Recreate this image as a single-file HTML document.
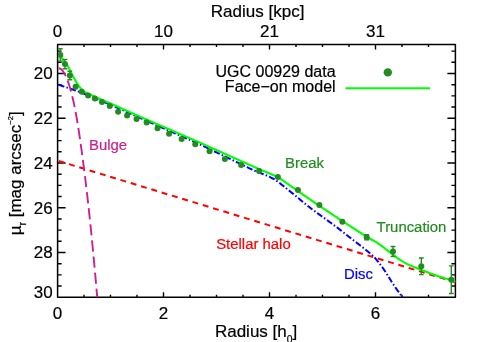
<!DOCTYPE html><html><head><meta charset="utf-8"><style>html,body{margin:0;padding:0;background:#fff}svg{display:block;will-change:transform}text{font-family:"Liberation Sans",sans-serif;fill:#000;stroke:#000;stroke-width:0.2px}</style></head><body>
<svg width="479" height="342" viewBox="0 0 479 342">
<rect width="479" height="342" fill="#fff"/>
<defs><clipPath id="c"><rect x="58.10" y="44.50" width="397.30" height="252.65"/></clipPath></defs>
<rect x="57.60" y="44.50" width="397.80" height="252.65" fill="none" stroke="#000" stroke-width="1.5" stroke-linejoin="round"/><path d="M84.00 297.15 v-2.50 M84.00 44.50 v2.50 M110.50 297.15 v-2.50 M110.50 44.50 v2.50 M137.00 297.15 v-2.50 M137.00 44.50 v2.50 M163.50 297.15 v-5.00 M163.50 44.50 v5.00 M190.00 297.15 v-2.50 M190.00 44.50 v2.50 M216.50 297.15 v-2.50 M216.50 44.50 v2.50 M243.00 297.15 v-2.50 M243.00 44.50 v2.50 M269.50 297.15 v-5.00 M269.50 44.50 v5.00 M296.00 297.15 v-2.50 M296.00 44.50 v2.50 M322.50 297.15 v-2.50 M322.50 44.50 v2.50 M349.00 297.15 v-2.50 M349.00 44.50 v2.50 M375.50 297.15 v-5.00 M375.50 44.50 v5.00 M402.00 297.15 v-2.50 M402.00 44.50 v2.50 M428.50 297.15 v-2.50 M428.50 44.50 v2.50 M57.60 51.12 h4.00 M455.40 51.12 h-4.00 M57.60 62.31 h4.00 M455.40 62.31 h-4.00 M57.60 73.50 h8.00 M455.40 73.50 h-8.00 M57.60 84.69 h4.00 M455.40 84.69 h-4.00 M57.60 95.88 h4.00 M455.40 95.88 h-4.00 M57.60 107.06 h4.00 M455.40 107.06 h-4.00 M57.60 118.25 h8.00 M455.40 118.25 h-8.00 M57.60 129.44 h4.00 M455.40 129.44 h-4.00 M57.60 140.62 h4.00 M455.40 140.62 h-4.00 M57.60 151.81 h4.00 M455.40 151.81 h-4.00 M57.60 163.00 h8.00 M455.40 163.00 h-8.00 M57.60 174.19 h4.00 M455.40 174.19 h-4.00 M57.60 185.38 h4.00 M455.40 185.38 h-4.00 M57.60 196.56 h4.00 M455.40 196.56 h-4.00 M57.60 207.75 h8.00 M455.40 207.75 h-8.00 M57.60 218.94 h4.00 M455.40 218.94 h-4.00 M57.60 230.12 h4.00 M455.40 230.12 h-4.00 M57.60 241.31 h4.00 M455.40 241.31 h-4.00 M57.60 252.50 h8.00 M455.40 252.50 h-8.00 M57.60 263.69 h4.00 M455.40 263.69 h-4.00 M57.60 274.88 h4.00 M455.40 274.88 h-4.00 M57.60 286.06 h4.00 M455.40 286.06 h-4.00 " stroke="#000" stroke-width="1.4" fill="none"/>
<g clip-path="url(#c)" fill="none">
<path d="M57.60 84.45 L58.55 84.76 L59.50 85.07 L60.45 85.38 L61.40 85.70 L62.35 86.01 L63.30 86.33 L64.25 86.65 L65.19 86.97 L66.14 87.29 L67.09 87.61 L68.03 87.93 L68.98 88.26 L69.93 88.58 L70.87 88.91 L71.82 89.23 L72.76 89.56 L73.71 89.89 L74.65 90.22 L75.59 90.56 L76.53 90.89 L77.47 91.23 L78.42 91.57 L79.36 91.91 L80.29 92.25 L81.23 92.61 L82.16 92.96 L83.09 93.33 L84.02 93.70 L84.95 94.08 L85.87 94.46 L86.80 94.84 L87.72 95.22 L88.64 95.61 L89.57 96.00 L90.49 96.38 L91.41 96.77 L92.33 97.15 L93.26 97.54 L94.18 97.93 L95.10 98.31 L96.02 98.70 L96.95 99.08 L97.87 99.46 L98.80 99.84 L99.72 100.22 L100.65 100.59 L101.58 100.97 L102.50 101.35 L103.43 101.73 L104.35 102.10 L105.28 102.48 L106.20 102.86 L107.13 103.24 L108.05 103.63 L108.97 104.02 L109.89 104.41 L110.81 104.82 L111.72 105.22 L112.63 105.63 L113.55 106.04 L114.46 106.45 L115.37 106.85 L116.28 107.26 L117.20 107.67 L118.11 108.08 L119.02 108.49 L119.93 108.90 L120.85 109.31 L121.76 109.72 L122.67 110.13 L123.59 110.53 L124.50 110.94 L125.41 111.35 L126.32 111.76 L127.24 112.17 L128.15 112.58 L129.06 112.99 L129.97 113.40 L130.89 113.80 L131.80 114.21 L132.71 114.62 L133.62 115.03 L134.54 115.44 L135.45 115.84 L136.36 116.25 L137.28 116.66 L138.19 117.06 L139.11 117.47 L140.02 117.88 L140.93 118.28 L141.85 118.69 L142.76 119.09 L143.68 119.50 L144.59 119.90 L145.50 120.31 L146.42 120.71 L147.33 121.12 L148.25 121.52 L149.16 121.93 L150.08 122.33 L150.99 122.73 L151.91 123.14 L152.82 123.54 L153.74 123.95 L154.65 124.35 L155.57 124.75 L156.48 125.16 L157.40 125.56 L158.31 125.97 L159.22 126.37 L160.14 126.78 L161.05 127.18 L161.97 127.58 L162.88 127.99 L163.80 128.39 L164.71 128.80 L165.63 129.20 L166.54 129.60 L167.46 130.01 L168.37 130.41 L169.29 130.82 L170.20 131.22 L171.12 131.63 L172.03 132.03 L172.94 132.43 L173.86 132.84 L174.77 133.24 L175.69 133.65 L176.60 134.05 L177.52 134.45 L178.43 134.86 L179.35 135.26 L180.26 135.67 L181.18 136.07 L182.09 136.48 L183.01 136.88 L183.92 137.28 L184.84 137.69 L185.75 138.09 L186.67 138.50 L187.58 138.90 L188.49 139.30 L189.41 139.71 L190.32 140.11 L191.24 140.52 L192.15 140.92 L193.07 141.33 L193.98 141.73 L194.90 142.13 L195.81 142.54 L196.73 142.94 L197.64 143.35 L198.55 143.76 L199.46 144.17 L200.37 144.59 L201.27 145.02 L202.18 145.45 L203.08 145.89 L203.98 146.32 L204.88 146.76 L205.78 147.19 L206.68 147.63 L207.58 148.06 L208.48 148.50 L209.38 148.93 L210.28 149.37 L211.18 149.80 L212.08 150.24 L212.98 150.67 L213.88 151.11 L214.78 151.55 L215.68 151.98 L216.58 152.42 L217.48 152.85 L218.38 153.29 L219.28 153.72 L220.18 154.16 L221.08 154.59 L221.98 155.03 L222.88 155.46 L223.78 155.90 L224.68 156.34 L225.58 156.77 L226.48 157.21 L227.38 157.64 L228.28 158.08 L229.18 158.51 L230.08 158.95 L230.98 159.38 L231.88 159.82 L232.78 160.25 L233.68 160.69 L234.58 161.13 L235.48 161.56 L236.39 162.00 L237.29 162.43 L238.19 162.87 L239.09 163.30 L239.99 163.74 L240.89 164.17 L241.79 164.61 L242.69 165.04 L243.59 165.48 L244.49 165.91 L245.39 166.35 L246.29 166.79 L247.19 167.22 L248.09 167.66 L248.99 168.09 L249.89 168.53 L250.79 168.96 L251.69 169.40 L252.59 169.83 L253.50 170.25 L254.41 170.67 L255.32 171.07 L256.24 171.45 L257.17 171.82 L258.10 172.19 L259.03 172.55 L259.97 172.91 L260.90 173.27 L261.84 173.62 L262.77 173.98 L263.70 174.34 L264.63 174.71 L265.56 175.07 L266.49 175.45 L267.40 175.85 L268.31 176.26 L269.22 176.69 L270.11 177.13 L271.01 177.58 L271.90 178.03 L272.78 178.50 L273.66 178.97 L274.52 179.47 L275.37 179.99 L276.20 180.54 L277.02 181.12 L277.83 181.70 L278.63 182.30 L279.43 182.90 L280.22 183.51 L281.01 184.12 L281.80 184.74 L282.58 185.37 L283.36 185.99 L284.14 186.61 L284.92 187.24 L285.70 187.86 L286.48 188.49 L287.27 189.11 L288.05 189.74 L288.83 190.36 L289.61 190.99 L290.39 191.61 L291.17 192.24 L291.94 192.87 L292.72 193.50 L293.49 194.13 L294.27 194.77 L295.04 195.41 L295.81 196.04 L296.58 196.68 L297.34 197.32 L298.11 197.96 L298.88 198.60 L299.65 199.24 L300.42 199.87 L301.19 200.51 L301.97 201.15 L302.74 201.78 L303.52 202.41 L304.30 203.04 L305.08 203.66 L305.85 204.29 L306.64 204.92 L307.42 205.54 L308.20 206.17 L308.98 206.79 L309.76 207.42 L310.54 208.04 L311.32 208.66 L312.11 209.27 L312.91 209.88 L313.71 210.48 L314.51 211.07 L315.32 211.66 L316.13 212.24 L316.95 212.83 L317.76 213.41 L318.57 213.99 L319.38 214.58 L320.19 215.16 L321.01 215.75 L321.82 216.33 L322.63 216.91 L323.44 217.50 L324.25 218.08 L325.06 218.67 L325.88 219.25 L326.68 219.84 L327.49 220.43 L328.30 221.02 L329.11 221.61 L329.91 222.20 L330.72 222.79 L331.52 223.39 L332.33 223.98 L333.13 224.58 L333.93 225.17 L334.74 225.76 L335.54 226.36 L336.34 226.96 L337.14 227.56 L337.94 228.16 L338.73 228.77 L339.52 229.39 L340.31 230.00 L341.10 230.62 L341.88 231.24 L342.67 231.85 L343.46 232.47 L344.24 233.09 L345.03 233.70 L345.82 234.32 L346.61 234.94 L347.39 235.56 L348.18 236.17 L348.97 236.79 L349.76 237.40 L350.55 238.01 L351.34 238.63 L352.13 239.24 L352.92 239.84 L353.72 240.45 L354.51 241.06 L355.30 241.67 L356.10 242.28 L356.89 242.89 L357.68 243.50 L358.47 244.11 L359.27 244.72 L360.06 245.33 L360.85 245.94 L361.64 246.55 L362.43 247.17 L363.21 247.79 L363.99 248.42 L364.77 249.04 L365.55 249.67 L366.33 250.30 L367.10 250.93 L367.88 251.56 L368.66 252.19 L369.43 252.82 L370.21 253.45 L370.97 254.09 L371.73 254.75 L372.47 255.42 L373.19 256.11 L373.89 256.82 L374.58 257.54 L375.25 258.28 L375.91 259.03 L376.55 259.80 L377.18 260.57 L377.80 261.35 L378.42 262.14 L379.03 262.93 L379.64 263.72 L380.25 264.52 L380.85 265.32 L381.45 266.12 L382.04 266.92 L382.63 267.73 L383.21 268.54 L383.79 269.36 L384.35 270.19 L384.90 271.02 L385.45 271.86 L385.99 272.70 L386.53 273.54 L387.07 274.38 L387.61 275.22 L388.14 276.07 L388.67 276.92 L389.19 277.77 L389.72 278.62 L390.24 279.48 L390.76 280.33 L391.28 281.18 L391.81 282.03 L392.34 282.88 L392.89 283.72 L393.44 284.55 L393.99 285.38 L394.55 286.21 L395.12 287.04 L395.68 287.86 L396.26 288.68 L396.84 289.49 L397.42 290.30 L398.02 291.10 L398.62 291.90 L399.23 292.70 L399.83 293.49 L400.43 294.29 L401.03 295.10 L401.61 295.91 L402.19 296.72 L402.77 297.54 L403.34 298.36 L403.92 299.18" stroke="#0000ff" stroke-width="2" stroke-dasharray="6.2 2.2 1.5 2.2" stroke-dashoffset="-0.9"/>
<path d="M58.7 161.01 L456 282.4" stroke="#ff0000" stroke-width="2" stroke-dasharray="5.9 4.863"/>
<path d="M58.42 68.24 L58.95 68.28 L59.48 68.41 L60.01 68.62 L60.55 68.91 L61.08 69.29 L61.62 69.76 L62.15 70.30 L62.69 70.93 L63.23 71.65 L63.76 72.45 L64.30 73.33 L64.84 74.30 L65.38 75.35 L65.92 76.49 L66.46 77.71 L67.01 79.01 L67.55 80.40 L68.09 81.87 L68.63 83.43 L69.17 85.07 L69.71 86.79 L70.25 88.60 L70.78 90.49 L71.32 92.47 L71.85 94.53 L72.38 96.68 L72.91 98.91 L73.43 101.22 L73.95 103.62 L74.46 106.10 L74.97 108.67 L75.48 111.32 L75.99 114.05 L76.49 116.87 L76.99 119.77 L77.49 122.76 L77.99 125.83 L78.48 128.98 L78.98 132.22 L79.48 135.55 L79.98 138.95 L80.48 142.44 L80.99 146.02 L81.50 149.68 L82.01 153.42 L82.52 157.25 L83.04 161.16 L83.56 165.16 L84.09 169.24 L84.61 173.40 L85.14 177.65 L85.66 181.99 L86.19 186.40 L86.72 190.90 L87.25 195.49 L87.78 200.16 L88.31 204.91 L88.84 209.75 L89.37 214.67 L89.90 219.68 L90.43 224.77 L90.96 229.94 L91.49 235.20 L92.02 240.54 L92.55 245.97 L93.08 251.48 L93.61 257.07 L94.14 262.75 L94.67 268.51 L95.20 274.36 L95.73 280.29 L96.26 286.31 L96.79 292.41 L97.32 298.59" stroke="#cd2090" stroke-width="1.9" stroke-dasharray="11.25 4.93"/>
</g>
<path d="M61.33 57.58 L61.89 58.40 L62.48 59.21 L63.08 60.01 L63.69 60.80 L64.31 61.59 L64.93 62.37 L65.55 63.15 L66.16 63.94 L66.76 64.74 L67.33 65.56 L67.87 66.39 L68.37 67.25 L68.85 68.13 L69.31 69.01 L69.77 69.90 L70.22 70.79 L70.67 71.69 L71.12 72.58 L71.58 73.47 L72.03 74.36 L72.50 75.25 L72.96 76.13 L73.44 77.01 L73.92 77.88 L74.41 78.76 L74.90 79.63 L75.39 80.50 L75.89 81.36 L76.40 82.22 L76.92 83.08 L77.46 83.92 L78.01 84.76 L78.57 85.58 L79.15 86.39 L79.76 87.18 L80.40 87.94 L81.07 88.67 L81.77 89.38 L82.50 90.06 L83.25 90.70 L84.03 91.29 L84.86 91.83 L85.72 92.32 L86.60 92.78 L87.50 93.21 L88.40 93.64 L89.31 94.06 L90.22 94.49 L91.12 94.91 L92.02 95.34 L92.92 95.77 L93.83 96.21 L94.73 96.64 L95.63 97.06 L96.54 97.47 L97.46 97.88 L98.37 98.28 L99.29 98.67 L100.22 99.06 L101.14 99.45 L102.06 99.83 L102.98 100.22 L103.90 100.61 L104.83 101.00 L105.75 101.38 L106.67 101.77 L107.59 102.16 L108.51 102.56 L109.42 102.96 L110.34 103.36 L111.25 103.77 L112.16 104.18 L113.07 104.59 L113.99 105.00 L114.90 105.42 L115.81 105.83 L116.72 106.24 L117.63 106.65 L118.54 107.06 L119.45 107.47 L120.37 107.89 L121.28 108.30 L122.19 108.71 L123.10 109.12 L124.01 109.53 L124.93 109.93 L125.84 110.34 L126.75 110.75 L127.66 111.16 L128.58 111.57 L129.49 111.98 L130.40 112.39 L131.31 112.80 L132.23 113.21 L133.14 113.61 L134.05 114.02 L134.97 114.43 L135.88 114.84 L136.79 115.24 L137.71 115.65 L138.62 116.05 L139.54 116.46 L140.45 116.87 L141.36 117.27 L142.28 117.68 L143.19 118.08 L144.11 118.48 L145.02 118.88 L145.94 119.28 L146.86 119.68 L147.78 120.08 L148.69 120.48 L149.61 120.87 L150.53 121.27 L151.45 121.67 L152.36 122.06 L153.28 122.46 L154.20 122.86 L155.12 123.26 L156.04 123.65 L156.95 124.05 L157.87 124.45 L158.79 124.85 L159.71 125.24 L160.62 125.64 L161.54 126.04 L162.46 126.43 L163.38 126.83 L164.29 127.23 L165.21 127.63 L166.13 128.02 L167.05 128.42 L167.97 128.82 L168.88 129.22 L169.80 129.61 L170.72 130.01 L171.64 130.41 L172.55 130.80 L173.47 131.20 L174.39 131.60 L175.31 132.00 L176.22 132.39 L177.14 132.79 L178.06 133.19 L178.98 133.59 L179.90 133.98 L180.81 134.38 L181.73 134.78 L182.65 135.17 L183.57 135.57 L184.48 135.97 L185.40 136.37 L186.32 136.76 L187.24 137.16 L188.15 137.56 L189.07 137.96 L189.99 138.35 L190.91 138.75 L191.83 139.15 L192.74 139.54 L193.66 139.94 L194.58 140.34 L195.50 140.74 L196.41 141.13 L197.33 141.53 L198.25 141.93 L199.16 142.33 L200.08 142.73 L200.99 143.14 L201.91 143.54 L202.82 143.95 L203.73 144.36 L204.65 144.77 L205.56 145.18 L206.47 145.59 L207.39 145.99 L208.30 146.40 L209.21 146.81 L210.12 147.22 L211.04 147.63 L211.95 148.04 L212.86 148.44 L213.77 148.85 L214.69 149.26 L215.60 149.67 L216.51 150.08 L217.43 150.49 L218.34 150.90 L219.25 151.30 L220.16 151.71 L221.08 152.12 L221.99 152.53 L222.90 152.94 L223.82 153.35 L224.73 153.75 L225.64 154.16 L226.55 154.57 L227.47 154.98 L228.38 155.39 L229.29 155.80 L230.20 156.21 L231.12 156.61 L232.03 157.02 L232.94 157.43 L233.86 157.84 L234.77 158.25 L235.68 158.66 L236.59 159.06 L237.51 159.47 L238.42 159.88 L239.33 160.29 L240.25 160.70 L241.16 161.11 L242.07 161.51 L242.98 161.92 L243.90 162.33 L244.81 162.74 L245.72 163.15 L246.64 163.56 L247.55 163.97 L248.46 164.37 L249.37 164.78 L250.29 165.19 L251.20 165.60 L252.11 166.01 L253.03 166.41 L253.94 166.82 L254.86 167.22 L255.77 167.62 L256.69 168.01 L257.61 168.41 L258.53 168.80 L259.45 169.19 L260.37 169.58 L261.29 169.97 L262.21 170.36 L263.13 170.75 L264.06 171.14 L264.98 171.53 L265.90 171.92 L266.82 172.31 L267.74 172.71 L268.66 173.10 L269.57 173.49 L270.49 173.89 L271.41 174.28 L272.33 174.68 L273.25 175.07 L274.17 175.47 L275.08 175.87 L275.99 176.29 L276.89 176.73 L277.77 177.19 L278.64 177.68 L279.49 178.19 L280.34 178.73 L281.18 179.27 L282.01 179.83 L282.83 180.39 L283.65 180.96 L284.46 181.54 L285.28 182.12 L286.09 182.71 L286.90 183.29 L287.72 183.87 L288.53 184.45 L289.34 185.04 L290.16 185.62 L290.97 186.20 L291.79 186.78 L292.60 187.35 L293.42 187.92 L294.25 188.49 L295.07 189.06 L295.89 189.63 L296.72 190.20 L297.54 190.77 L298.36 191.34 L299.18 191.91 L300.00 192.48 L300.82 193.06 L301.63 193.63 L302.45 194.21 L303.27 194.78 L304.09 195.36 L304.91 195.93 L305.73 196.49 L306.56 197.06 L307.38 197.63 L308.21 198.19 L309.03 198.76 L309.86 199.32 L310.68 199.89 L311.51 200.45 L312.34 201.01 L313.16 201.58 L313.99 202.14 L314.81 202.71 L315.64 203.27 L316.46 203.83 L317.29 204.40 L318.12 204.96 L318.95 205.52 L319.78 206.08 L320.61 206.63 L321.44 207.19 L322.27 207.74 L323.10 208.30 L323.94 208.85 L324.77 209.40 L325.60 209.96 L326.43 210.51 L327.27 211.07 L328.10 211.62 L328.93 212.17 L329.76 212.73 L330.60 213.28 L331.43 213.84 L332.26 214.39 L333.10 214.94 L333.93 215.50 L334.76 216.05 L335.59 216.60 L336.43 217.16 L337.26 217.71 L338.09 218.27 L338.92 218.82 L339.76 219.37 L340.59 219.92 L341.43 220.48 L342.26 221.02 L343.10 221.57 L343.94 222.11 L344.78 222.66 L345.62 223.20 L346.46 223.74 L347.30 224.28 L348.14 224.83 L348.98 225.37 L349.82 225.91 L350.66 226.45 L351.50 226.99 L352.34 227.54 L353.18 228.08 L354.02 228.62 L354.86 229.16 L355.70 229.70 L356.54 230.25 L357.38 230.79 L358.22 231.33 L359.06 231.87 L359.90 232.41 L360.74 232.96 L361.58 233.50 L362.42 234.04 L363.26 234.58 L364.11 235.12 L364.95 235.66 L365.80 236.19 L366.65 236.72 L367.50 237.23 L368.37 237.74 L369.23 238.24 L370.10 238.73 L370.97 239.23 L371.84 239.72 L372.71 240.22 L373.58 240.71 L374.44 241.21 L375.31 241.71 L376.18 242.21 L377.03 242.72 L377.88 243.25 L378.71 243.81 L379.52 244.38 L380.33 244.97 L381.12 245.58 L381.92 246.18 L382.71 246.79 L383.51 247.40 L384.30 248.01 L385.09 248.62 L385.88 249.23 L386.68 249.84 L387.47 250.45 L388.26 251.06 L389.05 251.67 L389.85 252.28 L390.64 252.89 L391.44 253.49 L392.23 254.10 L393.03 254.70 L393.83 255.31 L394.63 255.90 L395.43 256.50 L396.23 257.10 L397.03 257.69 L397.84 258.29 L398.65 258.87 L399.47 259.44 L400.30 260.00 L401.14 260.54 L401.99 261.07 L402.84 261.59 L403.70 262.10 L404.56 262.61 L405.43 263.10 L406.30 263.58 L407.19 264.04 L408.09 264.47 L409.00 264.89 L409.91 265.30 L410.82 265.70 L411.74 266.10 L412.66 266.50 L413.58 266.88 L414.51 267.26 L415.44 267.62 L416.37 267.98 L417.31 268.34 L418.24 268.69 L419.18 269.04 L420.11 269.40 L421.05 269.76 L421.98 270.12 L422.91 270.48 L423.84 270.85 L424.77 271.21 L425.70 271.58 L426.63 271.95 L427.56 272.31 L428.50 272.67 L429.43 273.03 L430.37 273.38 L431.31 273.72 L432.25 274.06 L433.19 274.39 L434.13 274.73 L435.07 275.06 L436.02 275.39 L436.96 275.72 L437.91 276.05 L438.85 276.38 L439.80 276.69 L440.75 276.99 L441.71 277.29 L442.67 277.57 L443.63 277.86 L444.58 278.14 L445.54 278.42 L446.50 278.70 L447.46 278.98 L448.42 279.26 L449.38 279.55 L450.34 279.83 L451.30 280.13 L452.25 280.43 L453.20 280.74 L454.15 281.05 L455.10 281.37 L456.05 281.68 L457.00 282.00" stroke="#00ff00" stroke-width="2.1" fill="none" stroke-linejoin="round" clip-path="url(#c)"/>
<g clip-path="url(#c)"><path d="M60.30 48.70 V61.10 M57.90 48.70 H62.70 M57.90 61.10 H62.70" stroke="#228b22" stroke-width="1.4" fill="none"/><circle cx="60.30" cy="54.90" r="3.0" fill="#228b22"/><path d="M64.95 59.40 V68.80 M62.55 59.40 H67.35 M62.55 68.80 H67.35" stroke="#228b22" stroke-width="1.4" fill="none"/><circle cx="64.95" cy="64.10" r="3.0" fill="#228b22"/><path d="M69.80 71.20 V79.80 M67.40 71.20 H72.20 M67.40 79.80 H72.20" stroke="#228b22" stroke-width="1.4" fill="none"/><circle cx="69.80" cy="75.50" r="3.0" fill="#228b22"/><circle cx="75.60" cy="86.65" r="3.0" fill="#228b22"/><circle cx="81.75" cy="91.70" r="3.0" fill="#228b22"/><circle cx="88.10" cy="95.50" r="3.0" fill="#228b22"/><circle cx="94.85" cy="98.40" r="3.0" fill="#228b22"/><circle cx="101.95" cy="102.00" r="3.0" fill="#228b22"/><circle cx="109.75" cy="105.90" r="3.0" fill="#228b22"/><circle cx="118.15" cy="111.80" r="3.0" fill="#228b22"/><circle cx="127.10" cy="115.50" r="3.0" fill="#228b22"/><circle cx="136.55" cy="119.10" r="3.0" fill="#228b22"/><circle cx="146.65" cy="122.60" r="3.0" fill="#228b22"/><circle cx="157.55" cy="128.20" r="3.0" fill="#228b22"/><circle cx="169.05" cy="133.70" r="3.0" fill="#228b22"/><circle cx="181.65" cy="139.10" r="3.0" fill="#228b22"/><circle cx="195.25" cy="144.20" r="3.0" fill="#228b22"/><circle cx="209.55" cy="151.20" r="3.0" fill="#228b22"/><circle cx="224.85" cy="159.10" r="3.0" fill="#228b22"/><circle cx="241.15" cy="164.90" r="3.0" fill="#228b22"/><circle cx="259.05" cy="170.90" r="3.0" fill="#228b22"/><circle cx="277.85" cy="177.00" r="3.0" fill="#228b22"/><circle cx="297.95" cy="190.00" r="3.0" fill="#228b22"/><circle cx="319.35" cy="205.10" r="3.0" fill="#228b22"/><circle cx="342.35" cy="221.80" r="3.0" fill="#228b22"/><path d="M366.70 234.70 V239.90 M364.30 234.70 H369.10 M364.30 239.90 H369.10" stroke="#228b22" stroke-width="1.4" fill="none"/><circle cx="366.70" cy="237.30" r="3.0" fill="#228b22"/><path d="M393.00 246.50 V256.50 M390.60 246.50 H395.40 M390.60 256.50 H395.40" stroke="#228b22" stroke-width="1.4" fill="none"/><circle cx="393.00" cy="251.50" r="3.0" fill="#228b22"/><path d="M421.30 258.00 V274.60 M418.90 258.00 H423.70 M418.90 274.60 H423.70" stroke="#228b22" stroke-width="1.4" fill="none"/><circle cx="421.30" cy="266.30" r="3.0" fill="#228b22"/><path d="M451.30 265.90 V293.50 M448.90 265.90 H453.70 M448.90 293.50 H453.70" stroke="#228b22" stroke-width="1.4" fill="none"/><circle cx="451.30" cy="279.70" r="3.0" fill="#228b22"/></g>
<text x="57.50" y="37.25" font-size="17.0" text-anchor="middle">0</text>
<text x="163.50" y="37.25" font-size="17.0" text-anchor="middle">10</text>
<text x="269.50" y="37.25" font-size="17.0" text-anchor="middle">21</text>
<text x="375.50" y="37.25" font-size="17.0" text-anchor="middle">31</text>
<text x="57.50" y="318.6" font-size="17.0" text-anchor="middle">0</text>
<text x="163.50" y="318.6" font-size="17.0" text-anchor="middle">2</text>
<text x="269.50" y="318.6" font-size="17.0" text-anchor="middle">4</text>
<text x="375.50" y="318.6" font-size="17.0" text-anchor="middle">6</text>
<text x="52.6" y="79.25" font-size="17.0" text-anchor="end">20</text>
<text x="52.6" y="124.00" font-size="17.0" text-anchor="end">22</text>
<text x="52.6" y="168.75" font-size="17.0" text-anchor="end">24</text>
<text x="52.6" y="213.50" font-size="17.0" text-anchor="end">26</text>
<text x="52.6" y="258.25" font-size="17.0" text-anchor="end">28</text>
<text x="52.6" y="297.6" font-size="17.0" text-anchor="end">30</text>
<text x="257.6" y="16.8" font-size="17.0" text-anchor="middle">Radius [kpc]</text>
<text x="256.1" y="337.2" font-size="17.0" text-anchor="middle">Radius [h<tspan font-size="10.4" dy="5.6">0</tspan><tspan dy="-5.6">]</tspan></text>
<text transform="translate(20.9 235.3) rotate(-90)" font-size="17.0" text-anchor="start">µ<tspan font-size="10.4" dy="4.6">r</tspan><tspan dy="-4.6"> [mag arcsec</tspan><tspan font-size="7.6" dy="-8">−2</tspan><tspan dy="8">]</tspan></text>
<text x="335.6" y="77.3" font-size="16" text-anchor="end">UGC 00929 data</text>
<text x="335.6" y="92.2" font-size="16" text-anchor="end">Face−on model</text>
<circle cx="387.8" cy="72.4" r="4.2" fill="#228b22"/>
<path d="M345.5 88.2 H430" stroke="#00ff00" stroke-width="2"/>
<text x="89.0" y="149.5" font-size="14.9" style="fill:#cd2090;stroke:#cd2090">Bulge</text>
<text x="285" y="167.6" font-size="14.9" style="fill:#228b22;stroke:#228b22">Break</text>
<text x="216.2" y="248.8" font-size="14.9" style="fill:#ff0000;stroke:#ff0000">Stellar halo</text>
<text x="344.0" y="279.4" font-size="14.9" style="fill:#0000ff;stroke:#0000ff">Disc</text>
<text x="376.6" y="232.2" font-size="14.9" style="fill:#228b22;stroke:#228b22">Truncation</text>
</svg></body></html>
